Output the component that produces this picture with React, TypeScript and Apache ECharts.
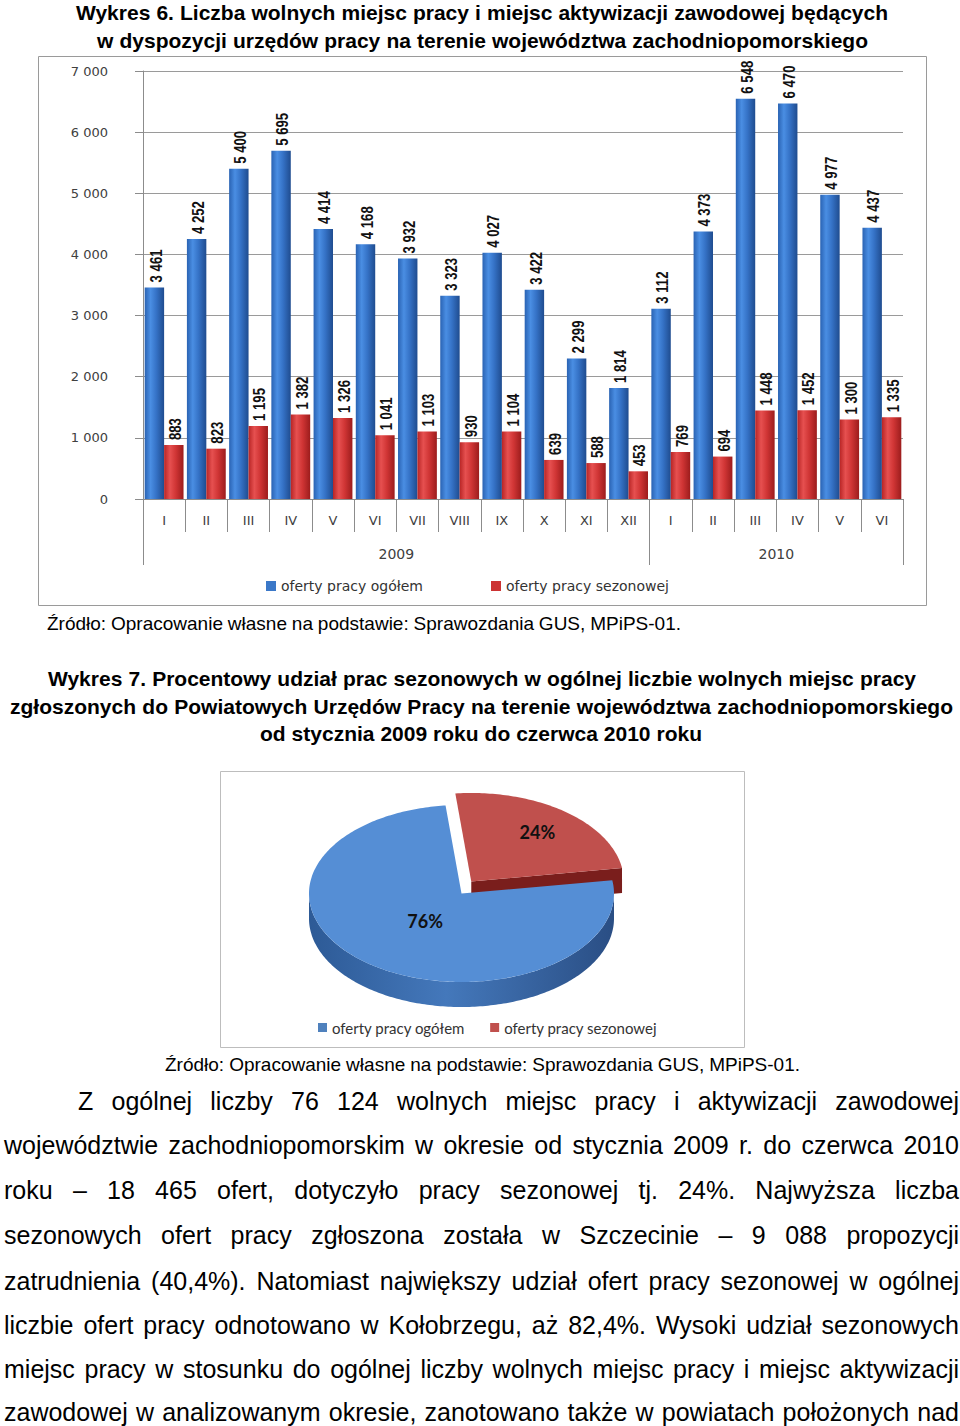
import React, { useEffect, useRef } from 'react';
import * as echarts from 'echarts';

// ---------- data ----------
const MONTHS = ['I', 'II', 'III', 'IV', 'V', 'VI', 'VII', 'VIII', 'IX', 'X', 'XI', 'XII', 'I', 'II', 'III', 'IV', 'V', 'VI'];
const YEAR_SLOTS = ['', '', '', '', '', '', '2009', '', '', '', '', '', '', '', '', '2010', '', '', ''];
const YEAR_BOUNDS = [0, 12, 18];
const TOTAL_OFFERS = [3461, 4252, 5400, 5695, 4414, 4168, 3932, 3323, 4027, 3422, 2299, 1814, 3112, 4373, 6548, 6470, 4977, 4437];
const SEASONAL_OFFERS = [883, 823, 1195, 1382, 1326, 1041, 1103, 930, 1104, 639, 588, 453, 769, 694, 1448, 1452, 1300, 1335];
const SERIES_NAMES = ['oferty pracy ogółem', 'oferty pracy sezonowej'];
const PIE_VALUES = [57659, 18465];
const SLICE_ORDER = [1, 0];

const TITLE6 = [
  'Wykres 6. Liczba wolnych miejsc pracy i miejsc aktywizacji zawodowej będących',
  'w dyspozycji urzędów pracy na terenie województwa zachodniopomorskiego',
];
const TITLE7 = [
  'Wykres 7. Procentowy udział prac sezonowych w ogólnej liczbie wolnych miejsc pracy',
  'zgłoszonych do Powiatowych Urzędów Pracy na terenie województwa zachodniopomorskiego',
  'od stycznia 2009 roku do czerwca 2010 roku',
];
const SOURCE = 'Źródło: Opracowanie własne na podstawie: Sprawozdania GUS, MPiPS-01.';
const PARAGRAPH = [
  'Z ogólnej liczby 76 124 wolnych miejsc pracy i aktywizacji zawodowej',
  'województwie zachodniopomorskim w okresie od stycznia 2009 r. do czerwca 2010',
  'roku – 18 465 ofert, dotyczyło pracy sezonowej tj. 24%. Najwyższa liczba',
  'sezonowych ofert pracy zgłoszona została w Szczecinie – 9 088 propozycji',
  'zatrudnienia (40,4%). Natomiast największy udział ofert pracy sezonowej w ogólnej',
  'liczbie ofert pracy odnotowano w Kołobrzegu, aż 82,4%. Wysoki udział sezonowych',
  'miejsc pracy w stosunku do ogólnej liczby wolnych miejsc pracy i miejsc aktywizacji',
  'zawodowej w analizowanym okresie, zanotowano także w powiatach położonych nad',
];

// ---------- layout / style ----------
const PARA_Y = [1101, 1145, 1190, 1235, 1281, 1325, 1369, 1412];
const SANS = '"Liberation Sans", Arial, sans-serif';
const WIDE = '"DejaVu Sans", Verdana, sans-serif';
const LATO = 'Lato, "Open Sans", sans-serif';
const PIE = { cx: 461.5, cy: 893.5, rx: 152.5, ry: 88.5, depth: 25, start: -96 };
const EXPLODE = [0, 16];
const LABEL_R = [0.39, 0.71];
const TOP_COLORS = ['#558ed5', '#c0504d'];
const FACE_COLORS = ['#2f5c98', '#7a1e1c'];
const SIDE_STOPS = [
  [{ offset: 0, color: '#2d5a96' }, { offset: 0.45, color: '#4478bb' }, { offset: 1, color: '#2a4e84' }],
  [{ offset: 0, color: '#7a1e1c' }, { offset: 0.5, color: '#983030' }, { offset: 1, color: '#6e1a18' }],
];
const BAR_CATEGORY_GAP = 0.08;

const fmt = (n: number) => (n >= 1000 ? `${Math.floor(n / 1000)} ${String(n % 1000).padStart(3, '0')}` : String(n));

let measureCtx: CanvasRenderingContext2D | null = null;
function spreadLine(text: string, x0: number, x1: number, y: number, size: number, weight: string) {
  if (!measureCtx) measureCtx = document.createElement('canvas').getContext('2d') as CanvasRenderingContext2D;
  const ctx = measureCtx;
  ctx.font = `${weight} ${size}px ${SANS}`;
  const words = text.split(' ');
  const widths = words.map((w) => ctx.measureText(w).width);
  const sum = widths.reduce((a, b) => a + b, 0);
  const gap = words.length > 1 ? (x1 - x0 - sum) / (words.length - 1) : 0;
  const out: any[] = [];
  let x = x0;
  words.forEach((w, wi) => {
    out.push({
      type: 'text',
      x,
      y,
      silent: true,
      style: { text: w, fontSize: size, fontWeight: weight, fontFamily: SANS, fill: '#000', verticalAlign: 'middle' },
    });
    x += widths[wi] + gap;
  });
  return out;
}

function paragraphGraphics() {
  const out: any[] = [];
  PARAGRAPH.forEach((line, li) => {
    out.push(...spreadLine(line, li === 0 ? 78 : 4, 959, PARA_Y[li], 25, 'normal'));
  });
  return out;
}

function pieRenderItem(params: any, api: any) {
  const idx = params.dataIndex;
  const total = PIE_VALUES.reduce((a, b) => a + b, 0);
  let acc = PIE.start;
  let a1 = 0;
  let a2 = 0;
  for (const k of SLICE_ORDER) {
    const span = (360 * (k === idx ? api.value(0) : PIE_VALUES[k])) / total;
    if (k === idx) {
      a1 = acc;
      a2 = acc + span;
    }
    acc += span;
  }
  const mid = (((a1 + a2) / 2) * Math.PI) / 180;
  const cx = PIE.cx + EXPLODE[idx] * Math.cos(mid);
  const cy = PIE.cy + EXPLODE[idx] * 0.95 * Math.sin(mid);
  const P = (a: number, dy = 0) => {
    const r = (a * Math.PI) / 180;
    return [cx + PIE.rx * Math.cos(r), cy + PIE.ry * Math.sin(r) + dy];
  };
  const zb = idx === 0 ? 10 : 0;
  const children: any[] = [];
  const ranges = [[-360, -180], [0, 180], [360, 540]];
  ranges.forEach(([s, e]) => {
    const lo = Math.max(a1, s);
    const hi = Math.min(a2, e);
    if (hi > lo) {
      const pts: number[][] = [];
      for (let a = lo; a < hi; a += 1) pts.push(P(a));
      pts.push(P(hi));
      for (let a = hi; a > lo; a -= 1) pts.push(P(a, PIE.depth));
      pts.push(P(lo, PIE.depth));
      children.push({
        type: 'polygon',
        shape: { points: pts },
        style: { fill: new echarts.graphic.LinearGradient(0, 0, 1, 0, SIDE_STOPS[idx]) },
        z2: zb + 1,
      });
    }
  });
  const face = (a: number, normal: number) => {
    if (Math.sin((normal * Math.PI) / 180) > 0.15) {
      children.push({
        type: 'polygon',
        shape: { points: [[cx, cy], P(a), P(a, PIE.depth), [cx, cy + PIE.depth]] },
        style: { fill: FACE_COLORS[idx] },
        z2: zb + 1,
      });
    }
  };
  face(a1, a1 - 90);
  face(a2, a2 + 90);
  const top: number[][] = [[cx, cy]];
  for (let a = a1; a < a2; a += 1) top.push(P(a));
  top.push(P(a2));
  children.push({ type: 'polygon', shape: { points: top }, style: { fill: TOP_COLORS[idx] }, z2: zb + 2 });
  const pct = Math.round((api.value(0) / total) * 100) + '%';
  children.push({
    type: 'text',
    x: cx + LABEL_R[idx] * PIE.rx * Math.cos(mid),
    y: cy + LABEL_R[idx] * PIE.ry * Math.sin(mid),
    style: { text: pct, fontSize: 18, fontWeight: 'bold', fontFamily: LATO, fill: '#111', align: 'center', verticalAlign: 'middle' },
    z2: 30,
  });
  return { type: 'group', children };
}

// value labels drawn through the grid's own coordinate system (condensed, rotated)
function barLabelRenderer(side: number) {
  return (params: any, api: any) => {
    const v = api.value(1);
    const p = api.coord([api.value(0), v]);
    const band = api.size([1, 0])[0];
    const bw = (band * (1 - BAR_CATEGORY_GAP)) / 2;
    return {
      type: 'text',
      x: p[0] + (side * bw) / 2 + 1,
      y: p[1] - 5,
      rotation: Math.PI / 2,
      scaleX: 0.94,
      scaleY: 1.2,
      style: {
        text: fmt(v),
        align: 'left',
        verticalAlign: 'middle',
        fontSize: 14,
        fontWeight: 'bold',
        fontFamily: SANS,
        fill: '#111',
      },
    };
  };
}

function buildOption() {
  const blueGrad = new echarts.graphic.LinearGradient(0, 0, 1, 0, [
    { offset: 0, color: '#2a63b3' },
    { offset: 0.3, color: '#4a8ee3' },
    { offset: 0.6, color: '#3572c6' },
    { offset: 1, color: '#1f4c8f' },
  ]);
  const redGrad = new echarts.graphic.LinearGradient(0, 0, 1, 0, [
    { offset: 0, color: '#b82525' },
    { offset: 0.3, color: '#e65050' },
    { offset: 0.6, color: '#d03535' },
    { offset: 1, color: '#9c1c1c' },
  ]);
  const axisGray = '#8c8c8c';
  return {
    animation: false,
    backgroundColor: '#fff',
    grid: { left: 143, right: 57, top: 71, bottom: 927, containLabel: false },
    legend: [
      {
        left: 261,
        top: 574,
        itemWidth: 10,
        itemHeight: 10,
        itemGap: 68,
        icon: 'rect',
        selectedMode: false,
        textStyle: { fontFamily: WIDE, fontSize: 14, color: '#333' },
        data: [
          { name: SERIES_NAMES[0], itemStyle: { color: '#3b78c8' } },
          { name: SERIES_NAMES[1], itemStyle: { color: '#cc3333' } },
        ],
      },
      {
        left: 313,
        top: 1015,
        itemWidth: 9,
        itemHeight: 9,
        itemGap: 25,
        icon: 'rect',
        selectedMode: false,
        textStyle: { fontFamily: LATO, fontSize: 15, color: '#333' },
        data: [
          { name: SERIES_NAMES[0], itemStyle: { color: '#4f81bd' } },
          { name: SERIES_NAMES[1], itemStyle: { color: '#c0504d' } },
        ],
      },
    ],
    xAxis: [
      {
        type: 'category',
        data: MONTHS,
        position: 'bottom',
        axisLine: { show: true, lineStyle: { color: axisGray } },
        axisTick: { show: true, interval: 0, length: 33, lineStyle: { color: axisGray } },
        axisLabel: { interval: 0, margin: 15, fontFamily: WIDE, fontSize: 13, color: '#404040' },
      },
      {
        type: 'category',
        data: YEAR_SLOTS,
        position: 'bottom',
        boundaryGap: false,
        axisLine: { show: false },
        axisTick: {
          show: true,
          length: 66,
          interval: (i: number) => YEAR_BOUNDS.includes(i),
          lineStyle: { color: axisGray },
        },
        axisLabel: { interval: 0, margin: 48, fontFamily: WIDE, fontSize: 14, color: '#404040' },
      },
    ],
    yAxis: {
      type: 'value',
      min: 0,
      max: 7000,
      interval: 1000,
      axisLine: { show: true, lineStyle: { color: axisGray } },
      axisTick: { show: true, length: 8, lineStyle: { color: axisGray } },
      splitLine: { lineStyle: { color: '#9a9a9a' } },
      axisLabel: { margin: 35, fontFamily: WIDE, fontSize: 13, color: '#404040', formatter: (v: number) => fmt(v) },
    },
    series: [
      {
        name: SERIES_NAMES[0],
        type: 'bar',
        data: TOTAL_OFFERS,
        barGap: '0%',
        barCategoryGap: `${BAR_CATEGORY_GAP * 100}%`,
        itemStyle: { color: blueGrad },
      },
      {
        name: SERIES_NAMES[1],
        type: 'bar',
        data: SEASONAL_OFFERS,
        barGap: '0%',
        barCategoryGap: `${BAR_CATEGORY_GAP * 100}%`,
        itemStyle: { color: redGrad },
      },
      {
        name: 'etykiety ogółem',
        type: 'custom',
        coordinateSystem: 'cartesian2d',
        xAxisIndex: 0,
        yAxisIndex: 0,
        data: TOTAL_OFFERS.map((v, i) => [i, v]),
        renderItem: barLabelRenderer(-1),
        silent: true,
        z: 5,
      },
      {
        name: 'etykiety sezonowe',
        type: 'custom',
        coordinateSystem: 'cartesian2d',
        xAxisIndex: 0,
        yAxisIndex: 0,
        data: SEASONAL_OFFERS.map((v, i) => [i, v]),
        renderItem: barLabelRenderer(1),
        silent: true,
        z: 5,
      },
      {
        name: 'udział',
        type: 'custom',
        coordinateSystem: 'none',
        renderItem: pieRenderItem,
        data: PIE_VALUES.map((v, i) => ({ name: SERIES_NAMES[i], value: v })),
        silent: true,
      },
    ],
    graphic: [
      ...spreadLine(TITLE6[0], 76, 888, 12, 21, 'bold'),
      ...spreadLine(TITLE6[1], 97, 868, 40, 21, 'bold'),
      {
        type: 'rect',
        shape: { x: 38.5, y: 56.5, width: 888, height: 549 },
        style: { fill: 'none', stroke: '#9a9a9a', lineWidth: 1 },
        silent: true,
      },
      ...spreadLine(SOURCE, 47, 681, 623, 19, 'normal'),
      ...spreadLine(TITLE7[0], 48, 916, 678, 21, 'bold'),
      ...spreadLine(TITLE7[1], 10, 953, 706, 21, 'bold'),
      ...spreadLine(TITLE7[2], 260, 702, 733, 21, 'bold'),
      {
        type: 'rect',
        shape: { x: 220.5, y: 771.5, width: 524, height: 276 },
        style: { fill: 'none', stroke: '#bdbdbd', lineWidth: 1 },
        silent: true,
      },
      ...spreadLine(SOURCE, 165, 800, 1064, 19, 'normal'),
      ...paragraphGraphics(),
    ],
  };
}

export default function App() {
  const ref = useRef<HTMLDivElement>(null);
  useEffect(() => {
    if (!ref.current) return;
    const chart = echarts.init(ref.current, null, { renderer: 'svg' });
    chart.setOption(buildOption() as any);
    return () => chart.dispose();
  }, []);
  return (
    <div
      ref={ref}
      style={{ position: 'absolute', left: 0, top: 0, width: 960, height: 1426, background: '#fff' }}
    />
  );
}
